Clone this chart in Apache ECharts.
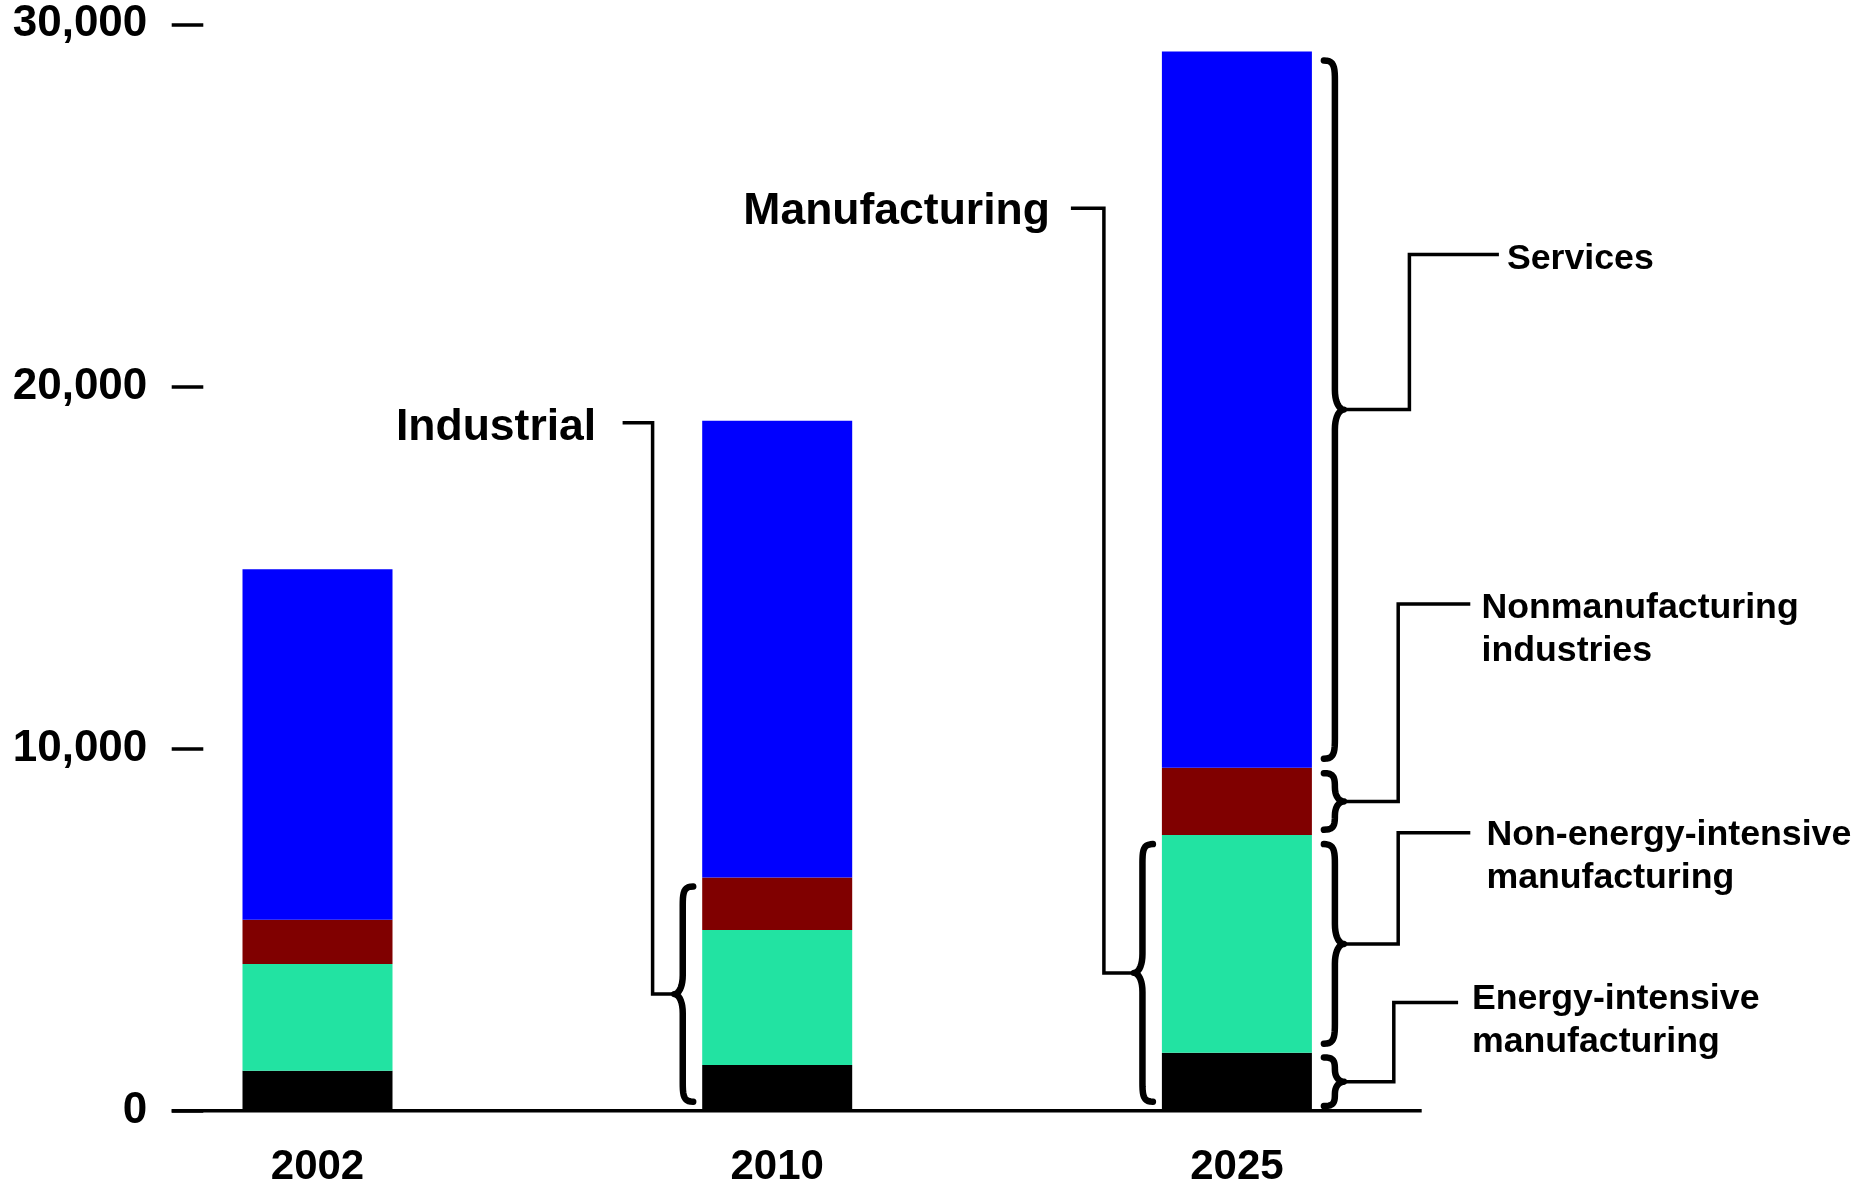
<!DOCTYPE html>
<html>
<head>
<meta charset="utf-8">
<script src="https://cdn.jsdelivr.net/npm/echarts@6/dist/echarts.min.js"></script>
<style>
html,body{margin:0;padding:0;background:#ffffff;}
#chart{width:1864px;height:1185px;}
</style>
</head>
<body>
<div id="chart"></div>
<script>
// ---------- data ----------
const categories = ['2002', '2010', '2025'];
const energyIntensive = [1100, 1260, 1600];
const nonEnergyIntensive = [2950, 3730, 6010];
const nonManufacturing = [1220, 1450, 1860];
const services = [9680, 12610, 19780];
const yTicks = [0, 10000, 20000, 30000];
const seriesNames = ['Energy-intensive manufacturing', 'Non-energy-intensive manufacturing', 'Nonmanufacturing industries', 'Services'];
const seriesColors = ['#000000', '#22E3A2', '#800000', '#0000FF'];

// ---------- layout ----------
const FONT = '"Liberation Sans", Arial, Helvetica, sans-serif';
const BAR_W = 150;
const GRID = {left: 87.65, right: 397.25, top: 24.3, bottom: 74.3, outerBoundsMode: 'none', containLabel: false};
const Y_AXIS_X = 203.3;
const TICK_LEN = 31.6;
const BASELINE_RIGHT = 1421.7;

const seriesData = [energyIntensive, nonEnergyIntensive, nonManufacturing, services];

const option = {
  animation: false,
  backgroundColor: '#ffffff',
  grid: GRID,
  xAxis: {
    type: 'category',
    data: categories,
    axisLine: {show: false},
    axisTick: {show: false},
    splitLine: {show: false},
    axisLabel: {
      color: '#000', fontFamily: FONT, fontWeight: 'bold', fontSize: 42,
      lineHeight: 36, margin: 39
    }
  },
  yAxis: {
    type: 'value',
    min: yTicks[0],
    max: yTicks[yTicks.length - 1],
    interval: yTicks[1] - yTicks[0],
    offset: -(Y_AXIS_X - GRID.left),
    axisLine: {show: false},
    splitLine: {show: false},
    axisTick: {show: true, inside: false, length: TICK_LEN, lineStyle: {color: '#000', width: 3.5}},
    axisLabel: {
      color: '#000', fontFamily: FONT, fontWeight: 'bold', fontSize: 44, margin: 56,
      padding: [7, 0, 0, 0],
      formatter: v => String(v).replace(/\B(?=(\d{3})+(?!\d))/g, ',')
    }
  },
  series: seriesData.map((d, i) => ({
    name: seriesNames[i],
    type: 'bar',
    stack: 'total',
    barWidth: BAR_W,
    data: d,
    itemStyle: {color: seriesColors[i]},
    emphasis: {disabled: true}
  }))
};

const chart = echarts.init(document.getElementById('chart'), null, {renderer: 'canvas'});
chart.setOption(option);

// ---------- annotations (braces + leaders) ----------
const px = (i, v) => chart.convertToPixel({xAxisIndex: 0, yAxisIndex: 0}, [i, v]);
const cum = categories.map((c, i) => {
  const arr = [0];
  seriesData.forEach(d => arr.push(arr[arr.length - 1] + d[i]));
  return arr;
});

// annotation layout: cat index, side, segment range [fromLevel, toLevel] in cumulative levels
const annotations = [
  {label: 'Industrial', cat: 1, side: 'left', from: 0, to: 3, elbowDx: 49.6, endDx: 79.6, lineY: 422.7, textDx: 106, textY: 428, fontSize: 44.5},
  {label: 'Manufacturing', cat: 2, side: 'left', from: 0, to: 2, elbowDx: 58, endDx: 91, lineY: 208.3, textDx: 112, textY: 212, fontSize: 44.5},
  {label: 'Services', cat: 2, side: 'right', from: 3, to: 4, elbowDx: 97.5, endDx: 187, lineY: 254.5, textDx: 195, textY: 259, fontSize: 35.7},
  {label: 'Nonmanufacturing\nindustries', cat: 2, side: 'right', from: 2, to: 3, elbowDx: 86.3, endDx: 158.4, lineY: 603.9, textDx: 169.6, textY: 608.5, fontSize: 35.7},
  {label: 'Non-energy-intensive\nmanufacturing', cat: 2, side: 'right', from: 1, to: 2, elbowDx: 86.3, endDx: 158.4, lineY: 832.7, textDx: 174.5, textY: 835.5, fontSize: 35.7},
  {label: 'Energy-intensive\nmanufacturing', cat: 2, side: 'right', from: 0, to: 1, elbowDx: 81.9, endDx: 146.2, lineY: 1002.5, textDx: 160, textY: 999.5, fontSize: 35.7}
];

function cubic(p0, p1, p2, p3, n, out) {
  for (let k = 1; k <= n; k++) {
    const t = k / n, u = 1 - t;
    out.push([
      u*u*u*p0[0] + 3*u*u*t*p1[0] + 3*u*t*t*p2[0] + t*t*t*p3[0],
      u*u*u*p0[1] + 3*u*u*t*p1[1] + 3*u*t*t*p2[1] + t*t*t*p3[1]
    ]);
  }
}

function bracePoints(xE, y1, y2, dir, d) {
  const xS = xE + dir * d * 0.55, xT = xE + dir * d, ym = (y1 + y2) / 2;
  const r = Math.min(d * 1.0, (y2 - y1) / 4);
  const pts = [[xE, y1]];
  cubic([xE, y1], [xE + dir * d * 0.5, y1], [xS, y1 + r * 0.3], [xS, y1 + r], 10, pts);
  pts.push([xS, ym - r]);
  cubic([xS, ym - r], [xS, ym - r * 0.3], [xT - dir * d * 0.2, ym], [xT, ym], 10, pts);
  cubic([xT, ym], [xT - dir * d * 0.2, ym], [xS, ym + r * 0.3], [xS, ym + r], 10, pts);
  pts.push([xS, y2 - r]);
  cubic([xS, y2 - r], [xS, y2 - r * 0.3], [xE + dir * d * 0.5, y2], [xE, y2], 10, pts);
  return pts;
}

const elements = [];
const zeroPt = px(0, 0);
elements.push({
  type: 'line', z: 20,
  shape: {x1: Y_AXIS_X - TICK_LEN, y1: zeroPt[1], x2: BASELINE_RIGHT, y2: zeroPt[1]},
  style: {stroke: '#000', lineWidth: 3.5}
});

annotations.forEach(a => {
  const c = px(a.cat, 0)[0];
  const dir = a.side === 'left' ? -1 : 1;
  const edge = c + dir * BAR_W / 2;
  const yTop = px(a.cat, cum[a.cat][a.to])[1];
  const yBot = px(a.cat, cum[a.cat][a.from])[1];
  const h = yBot - yTop;
  const inset = Math.min(9, h * 0.08);
  const gap = a.side === 'left' ? 9 : 12;
  const depth = a.side === 'left' ? 19 : 20;
  const xE = edge + dir * gap;
  const y1 = yTop + inset, y2 = yBot - inset;
  const ym = (y1 + y2) / 2;
  const tipX = xE + dir * depth;
  elements.push({
    type: 'polyline', z: 20,
    shape: {points: bracePoints(xE, y1, y2, dir, depth)},
    style: {stroke: '#000', lineWidth: 6.5, fill: null, lineCap: 'round', lineJoin: 'round'}
  });
  const elbowX = edge + dir * a.elbowDx;
  const endX = edge + dir * a.endDx;
  elements.push({
    type: 'polyline', z: 20,
    shape: {points: [[tipX, ym], [elbowX, ym], [elbowX, a.lineY], [endX, a.lineY]]},
    style: {stroke: '#000', lineWidth: 3.5, fill: null, lineJoin: 'miter'}
  });
  const lh = 43;
  elements.push({
    type: 'text', z: 20,
    x: edge + dir * a.textDx,
    y: a.textY - lh / 2,
    style: {
      text: a.label,
      fill: '#000',
      font: 'bold ' + a.fontSize + 'px ' + FONT,
      fontSize: a.fontSize, fontWeight: 'bold', fontFamily: FONT,
      lineHeight: lh,
      align: a.side === 'left' ? 'right' : 'left',
      textAlign: a.side === 'left' ? 'right' : 'left',
      verticalAlign: 'top', textVerticalAlign: 'top'
    }
  });
});

chart.setOption({graphic: {elements: elements}});
</script>
</body>
</html>
